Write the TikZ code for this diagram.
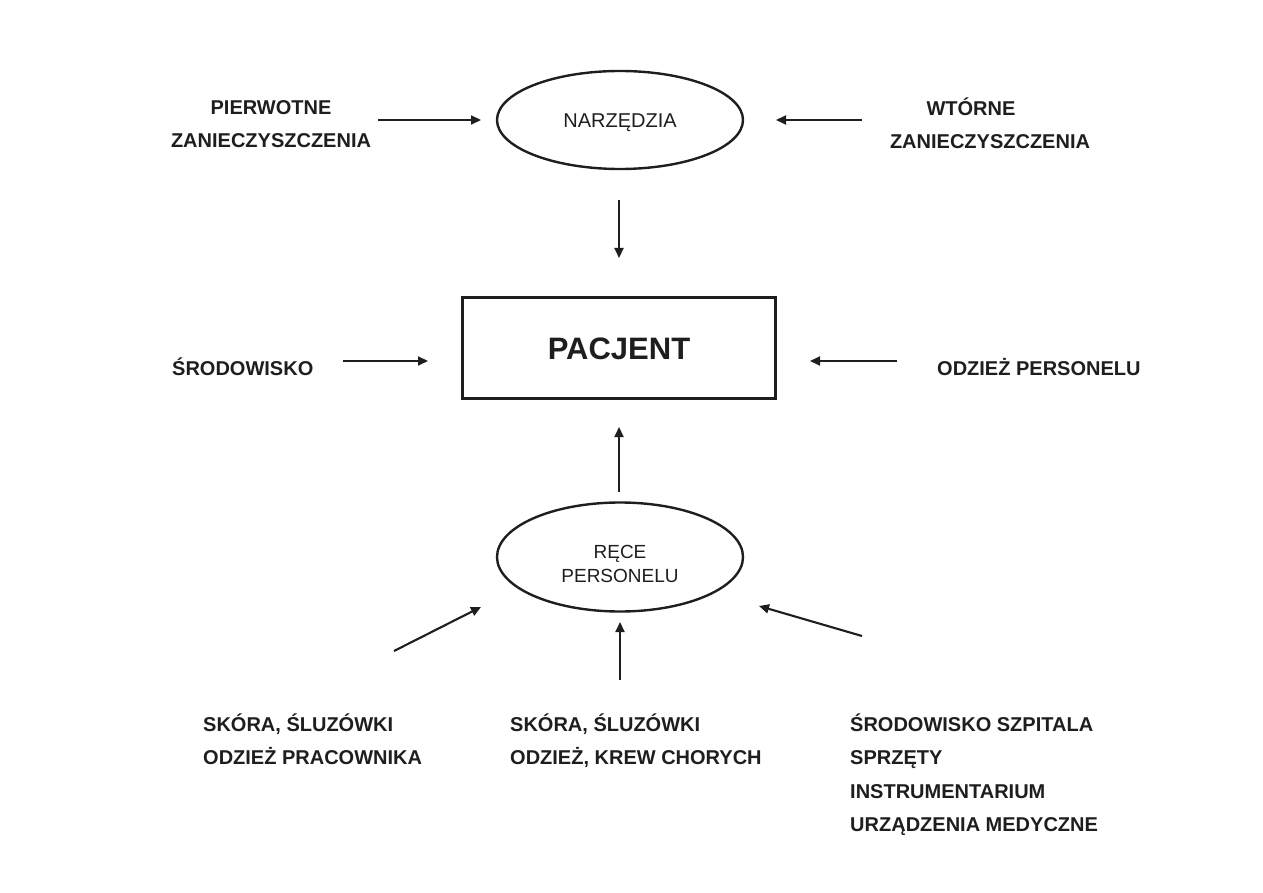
\documentclass[tikz,border=0pt]{standalone}
\usepackage{fontspec}
\setmainfont{Liberation Sans}
\usetikzlibrary{arrows.meta,shapes.geometric}
\definecolor{ink}{HTML}{1E1E1E}
\tikzset{
  lbl/.style={font=\bfseries\fontsize{20}{33.5}\selectfont, text=ink, inner sep=0pt},
  oval/.style={ellipse, draw=ink, line width=2.4pt, minimum width=246pt, inner sep=0pt,
    font=\fontsize{20}{24.5}\selectfont, text=ink, align=center},
  box/.style={rectangle, draw=ink, line width=2.4pt, minimum width=313pt, minimum height=101pt,
    font=\bfseries\fontsize{31}{36}\selectfont, text=ink, inner sep=0pt},
  arr/.style={draw=ink, line width=2.1pt, -{Triangle[length=10pt,width=9pt]}}
}
\begin{document}
\begin{tikzpicture}[x=1pt,y=-1pt]
\useasboundingbox (0,0) rectangle (1263,893);
% shapes
\node[oval, minimum height=98pt, text height=14.7pt, text depth=0pt] (narz) at (620,120) {NARZĘDZIA};
\node[box, text height=22.2pt, text depth=0pt] (pac) at (619,348) {PACJENT};
\node[oval, minimum height=109pt, font=\fontsize{19}{24.5}\selectfont] (rece) at (620,557) {\rule{0pt}{27.6pt}RĘCE\\PERSONELU};
% labels
\node[lbl, align=center, anchor=north] (pierw) at (271,95) {\rule{0pt}{19pt}PIERWOTNE\\ZANIECZYSZCZENIA};
\node[lbl, align=center, anchor=north] (wtor) at (990,96) {\rule{0pt}{19pt}WTÓRNE\hspace*{38pt}\\ZANIECZYSZCZENIA};
\node[lbl, anchor=base west] (srod) at (172,375) {ŚRODOWISKO};
\node[lbl, anchor=base west] (odz) at (937,375) {ODZIEŻ PERSONELU};
\node[lbl, align=left, anchor=north west] (bl) at (203,712) {\rule{0pt}{19pt}SKÓRA, ŚLUZÓWKI\\ODZIEŻ PRACOWNIKA};
\node[lbl, align=left, anchor=north west] (bm) at (510,712) {\rule{0pt}{19pt}SKÓRA, ŚLUZÓWKI\\ODZIEŻ, KREW CHORYCH};
\node[lbl, align=left, anchor=north west] (br) at (850,712) {\rule{0pt}{19pt}ŚRODOWISKO SZPITALA\\SPRZĘTY\\INSTRUMENTARIUM\\URZĄDZENIA MEDYCZNE};
% arrow end points
\coordinate (a1s) at (378,120); \coordinate (a1e) at (481,120);
\coordinate (a2s) at (862,120); \coordinate (a2e) at (776,120);
\coordinate (a3s) at (619,200); \coordinate (a3e) at (619,258);
\coordinate (a4s) at (343,361); \coordinate (a4e) at (428,361);
\coordinate (a5s) at (897,361); \coordinate (a5e) at (810,361);
\coordinate (a6s) at (619,492); \coordinate (a6e) at (619,427);
\coordinate (a7s) at (394,651); \coordinate (a7e) at (481,607);
\coordinate (a8s) at (620,680); \coordinate (a8e) at (620,622);
\coordinate (a9s) at (862,636); \coordinate (a9e) at (759,606);
\foreach \i in {1,...,9} { \draw[arr] (a\i s) -- (a\i e); }
\end{tikzpicture}
\end{document}
